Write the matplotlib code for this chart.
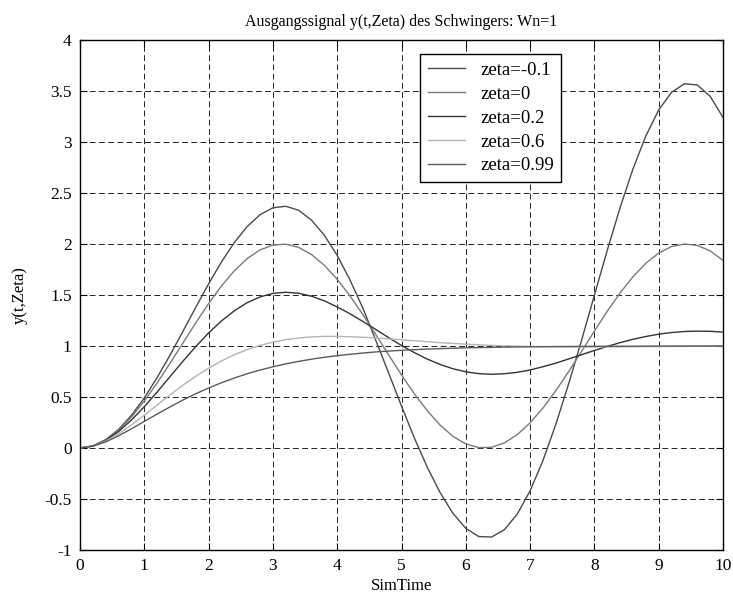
import matplotlib
matplotlib.use("Agg")
import matplotlib.pyplot as plt

# ---- data ----
t_fine = [0.0, 0.2, 0.4, 0.6, 0.8, 1.0, 1.2, 1.4, 1.6, 1.8, 2.0, 2.2, 2.4, 2.6, 2.8,
          3.0, 3.2, 3.4, 3.6, 3.8, 4.0, 4.2, 4.4, 4.6, 4.8, 5.0, 5.2, 5.4, 5.6, 5.8,
          6.0, 6.2, 6.4, 6.6, 6.8, 7.0, 7.2, 7.4, 7.6, 7.8, 8.0, 8.2, 8.4, 8.6, 8.8,
          9.0, 9.2, 9.4, 9.6, 9.8, 10.0]

y_zeta_m01 = [0.0, 0.021, 0.081, 0.182, 0.320, 0.491, 0.691, 0.910, 1.143, 1.379, 1.609,
              1.824, 2.014, 2.171, 2.287, 2.355, 2.370, 2.331, 2.234, 2.086, 1.888,
              1.646, 1.370, 1.056, 0.735, 0.411, 0.098, -0.187, -0.437, -0.641, -0.788,
              -0.868, -0.873, -0.801, -0.648, -0.420, -0.123, 0.232, 0.630, 1.055, 1.498,
              1.938, 2.357, 2.736, 3.059, 3.314, 3.487, 3.571, 3.559, 3.448, 3.241]

y_zeta_0 = [0.0, 0.020, 0.079, 0.175, 0.303, 0.460, 0.638, 0.830, 1.029, 1.227, 1.416,
            1.589, 1.737, 1.857, 1.942, 1.990, 1.998, 1.967, 1.897, 1.791, 1.654,
            1.490, 1.307, 1.112, 0.913, 0.716, 0.531, 0.366, 0.225, 0.114, 0.040,
            0.004, 0.007, 0.050, 0.131, 0.246, 0.392, 0.562, 0.749, 0.946, 1.146,
            1.341, 1.520, 1.679, 1.811, 1.911, 1.975, 2.000, 1.986, 1.933, 1.839]

y_zeta_02 = [0.0, 0.019, 0.075, 0.162, 0.274, 0.405, 0.549, 0.700, 0.850, 0.994, 1.128,
             1.246, 1.345, 1.425, 1.481, 1.516, 1.527, 1.517, 1.488, 1.443, 1.383,
             1.316, 1.240, 1.162, 1.082, 1.005, 0.935, 0.872, 0.819, 0.777, 0.747,
             0.729, 0.723, 0.728, 0.742, 0.765, 0.797, 0.832, 0.873, 0.915, 0.956,
             0.996, 1.033, 1.066, 1.093, 1.116, 1.132, 1.142, 1.146, 1.144, 1.136]

t_zeta_06 = [0.0, 0.2, 0.4, 0.6, 0.8, 1.0, 1.2, 1.4, 1.6, 1.8, 2.0, 2.2, 2.4, 2.6, 2.8,
             3.0, 3.2, 3.4, 3.6, 3.8, 4.0, 4.4, 4.8, 5.2, 5.6, 6.0, 6.4, 6.8, 7.2, 7.6,
             8.0, 8.4, 8.8, 9.2, 9.6, 10.0]
y_zeta_06 = [0.0, 0.0185, 0.068, 0.1395, 0.2265, 0.322, 0.422, 0.5205, 0.615, 0.703, 0.783,
             0.8535, 0.914, 0.965, 1.006, 1.038, 1.062, 1.079, 1.089, 1.094, 1.0945,
             1.086, 1.070, 1.0515, 1.033, 1.018, 1.006, 0.998, 0.994, 0.991, 0.991,
             0.992, 0.994, 0.996, 0.997, 0.999]

t_zeta_099 = [0.0, 0.2, 0.4, 0.6, 0.8, 1.0, 1.2, 1.4, 1.6, 1.8, 2.0, 2.2, 2.4, 2.6, 2.8,
              3.0, 3.2, 3.4, 3.6, 3.8, 4.0, 4.2, 4.4, 4.6, 4.8, 5.0, 5.2, 5.4, 5.6, 5.8,
              6.0, 6.5, 7.0, 7.5, 8.0, 9.0, 10.0]
y_zeta_099 = [0.0, 0.017, 0.060, 0.120, 0.188, 0.261, 0.333, 0.403, 0.470, 0.532, 0.588,
              0.640, 0.686, 0.728, 0.764, 0.796, 0.825, 0.849, 0.871, 0.889, 0.905,
              0.919, 0.931, 0.942, 0.950, 0.958, 0.964, 0.970, 0.974, 0.978, 0.982,
              0.988, 0.992, 0.995, 0.997, 0.999, 1.000]

labels = ["zeta=-0.1", "zeta=0", "zeta=0.2", "zeta=0.6", "zeta=0.99"]
x_ticks = [0, 1, 2, 3, 4, 5, 6, 7, 8, 9, 10]
y_ticks = [-1, -0.5, 0, 0.5, 1, 1.5, 2, 2.5, 3, 3.5, 4]
y_tick_labels = ["-1", "-0.5", "0", "0.5", "1", "1.5", "2", "2.5", "3", "3.5", "4"]

# ---- figure ----
plt.rcParams['font.family'] = ['Liberation Serif', 'DejaVu Serif']
fig = plt.figure(figsize=(7.33, 6.01), dpi=100)
ax = fig.add_axes([80 / 733, 51 / 601, 643 / 733, 510 / 601])

series = [
    (t_fine, y_zeta_m01, "#4a4a4a"),
    (t_fine, y_zeta_0, "#7a7a7a"),
    (t_fine, y_zeta_02, "#333333"),
    (t_zeta_06, y_zeta_06, "#b4b4b4"),
    (t_zeta_099, y_zeta_099, "#5a5a5a"),
]
for (tx, ty, col), lab in zip(series, labels):
    ax.plot(tx, ty, color=col, lw=1.0, label=lab)

ax.set_xlim(0, 10)
ax.set_ylim(-1, 4)
ax.set_xticks(x_ticks)
ax.set_xticklabels([str(v) for v in x_ticks])
ax.set_yticks(y_ticks)
ax.set_yticklabels(y_tick_labels)
ax.tick_params(direction='in', top=True, right=True, length=5, width=0.8,
               labelsize=12.5, colors='black', pad=6)
ax.grid(True, color='#222222', linestyle=(0, (6, 3.5)), linewidth=0.7)
for sp in ax.spines.values():
    sp.set_color('black')
    sp.set_linewidth(1.0)

ax.set_title("Ausgangssignal y(t,Zeta) des Schwingers: Wn=1", fontsize=11.5, pad=10)
ax.set_xlabel("SimTime", fontsize=12, labelpad=3)
ax.set_ylabel("y(t,Zeta)", fontsize=12, labelpad=12)

leg = ax.legend(loc='upper left', bbox_to_anchor=(0.529, 0.972), fontsize=13.5,
                frameon=True, fancybox=False, edgecolor='black', framealpha=1,
                handlelength=2.0, handletextpad=0.8, labelspacing=0.36,
                borderpad=0.4, borderaxespad=0)
leg.get_frame().set_linewidth(1.0)

fig.savefig("out.png", dpi=100)
